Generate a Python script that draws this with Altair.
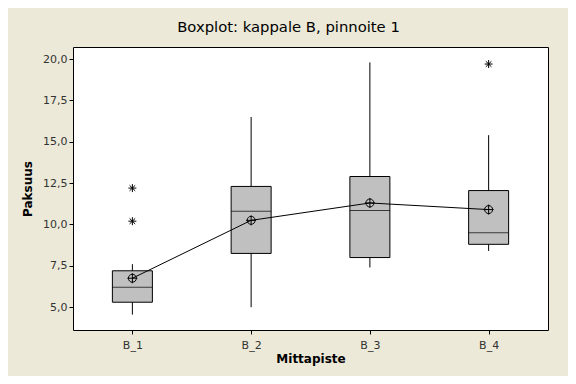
import altair as alt
import pandas as pd

categories = ["B_1", "B_2", "B_3", "B_4"]
q1 = [5.3, 8.25, 8.0, 8.8]
median = [6.2, 10.8, 10.85, 9.5]
q3 = [7.2, 12.3, 12.9, 12.05]
whisker_low = [4.55, 5.0, 7.4, 8.4]
whisker_high = [7.6, 16.5, 19.8, 15.4]
means = [6.75, 10.25, 11.3, 10.9]
outlier_cat = ["B_1", "B_1", "B_4"]
outlier_val = [12.2, 10.2, 19.7]
y_ticks = [5.0, 7.5, 10.0, 12.5, 15.0, 17.5, 20.0]

box_df = pd.DataFrame({
    "Mittapiste": categories, "q1": q1, "median": median, "q3": q3,
    "low": whisker_low, "high": whisker_high, "mean": means,
})
out_df = pd.DataFrame({"Mittapiste": outlier_cat, "value": outlier_val})

FONT = "DejaVu Sans"

x_enc = alt.X(
    "Mittapiste:N", sort=categories,
    scale=alt.Scale(type="point", padding=0.5),
    axis=alt.Axis(title="Mittapiste", labelAngle=0, labelPadding=5, titlePadding=3),
)
y_scale = alt.Scale(domain=[3.62, 20.73], nice=False, zero=False)
y_axis = alt.Axis(
    title="Paksuus", values=y_ticks, labelPadding=2, titlePadding=8,
    labelExpr="replace(format(datum.value, '.1f'), '.', ',')",
)

base = alt.Chart(box_df)

whiskers = base.mark_rule(color="black", strokeWidth=1).encode(
    x=x_enc, y=alt.Y("low:Q", scale=y_scale, axis=y_axis), y2="high:Q"
)
boxes = base.mark_bar(size=40, fill="#C0C0C0", stroke="black", strokeWidth=1).encode(
    x=x_enc, y=alt.Y("q1:Q", scale=y_scale, axis=y_axis), y2="q3:Q"
)
med = base.mark_tick(size=40, thickness=1, color="black").encode(
    x=x_enc, y=alt.Y("median:Q", scale=y_scale, axis=y_axis)
)
mean_line = base.mark_line(color="black", strokeWidth=1).encode(
    x=x_enc, y=alt.Y("mean:Q", scale=y_scale, axis=y_axis)
)
mean_shape = "M-0.8,0A0.8,0.8,0,1,1,0.8,0A0.8,0.8,0,1,1,-0.8,0M-1,0L1,0M0,-1L0,1"
mean_pts = base.mark_point(shape=mean_shape, size=100, filled=False, stroke="black", strokeWidth=1, opacity=1).encode(
    x=x_enc, y=alt.Y("mean:Q", scale=y_scale, axis=y_axis)
)
star_shape = "M-1,0L1,0M0,-1L0,1M-0.7,-0.7L0.7,0.7M-0.7,0.7L0.7,-0.7"
outliers = alt.Chart(out_df).mark_point(shape=star_shape, size=64, filled=False, stroke="black", strokeWidth=1, opacity=1).encode(
    x=x_enc, y=alt.Y("value:Q", scale=y_scale, axis=y_axis)
)

chart = alt.layer(whiskers, boxes, med, mean_line, mean_pts, outliers).properties(
    width=475, height=283,
    padding={"left": 65, "top": 39, "right": 20, "bottom": 46},
    autosize=alt.AutoSizeParams(type="none"),
    background="#ECE9D8",
    title=alt.TitleParams(
        "Boxplot: kappale B, pinnoite 1", font=FONT, fontSize=14.8, fontWeight="normal",
        anchor="middle", dx=-22, offset=12, color="black",
    ),
).configure_view(
    stroke="black", strokeWidth=1, fill="white"
).configure_axis(
    domain=False, grid=False, ticks=True, tickColor="black", tickSize=4,
    labelFont=FONT, labelFontSize=11, labelColor="#333333",
    titleFont=FONT, titleFontSize=12, titleFontWeight="bold", titleColor="black",
)

chart.save("out.html", embed_options={"renderer": "svg", "actions": False})
